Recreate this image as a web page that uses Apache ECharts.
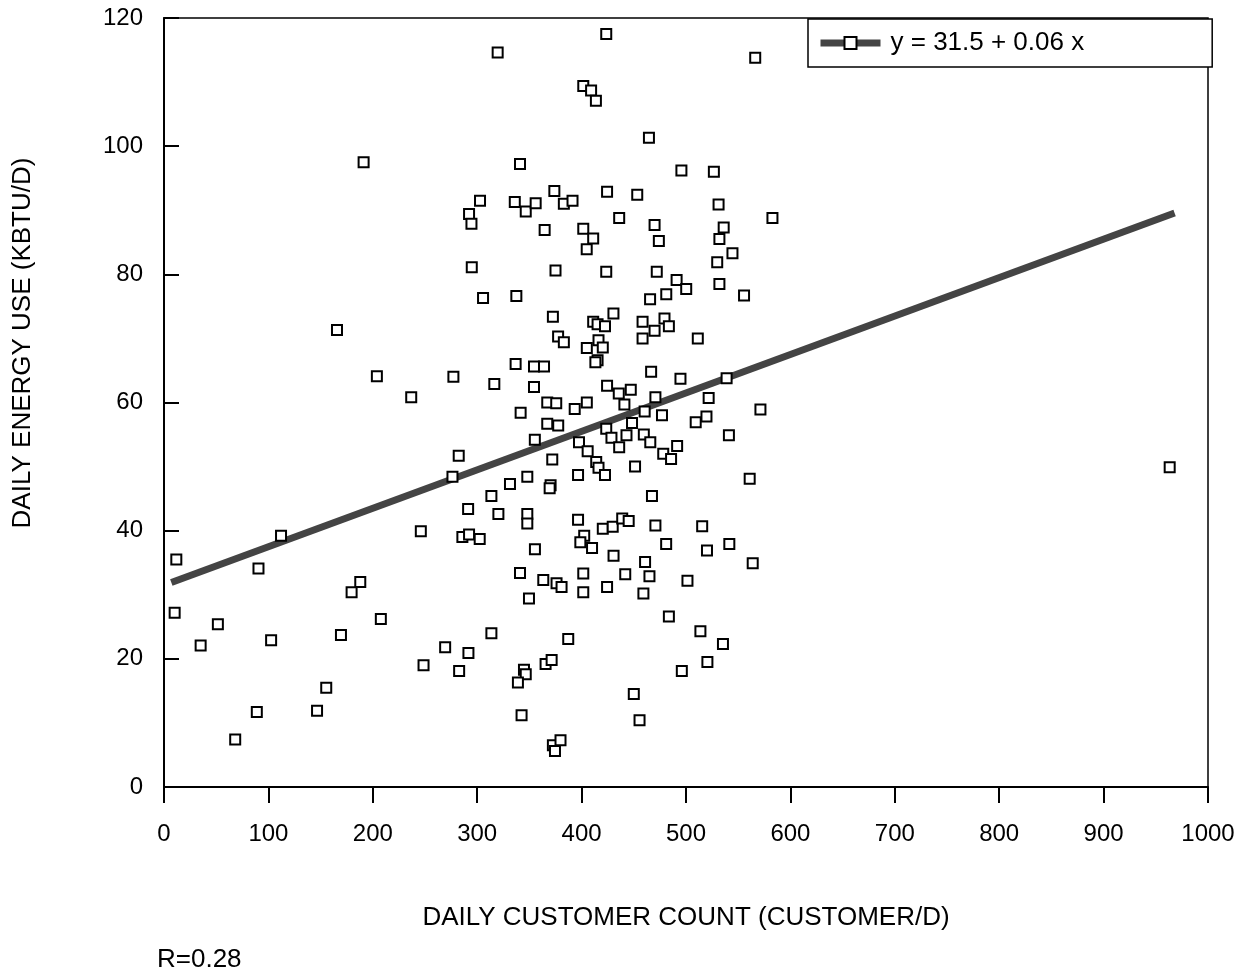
<!DOCTYPE html>
<html>
<head>
<meta charset="utf-8">
<script src="https://cdn.jsdelivr.net/npm/echarts@6/dist/echarts.min.js"></script>
<style>
  html, body { margin: 0; padding: 0; background: #fff; }
  #chart { width: 1249px; height: 976px; }
</style>
</head>
<body>
<div id="chart"></div>
<script>
const FONT = '"Liberation Sans", Arial, Helvetica, sans-serif';

// Observed days: customer count (customers/day) and energy use (kBtu/day)
const dailyCustomers = [
  319.6, 191.2, 341, 302.7, 336, 346.5, 356, 292.2, 294.5, 364.6, 294.8, 375,
  423.6, 566.3, 401.6, 409.1, 413.7, 464.5, 495.6, 526.7, 373.9, 424.4,
  453.3, 383, 391.3, 531.2, 436, 582.8, 469.9, 401.6, 411.1, 404.9,
  474, 536.1, 532, 544.5, 529.9, 423.6, 472, 491, 500.2, 532,
  555.6, 465.6, 481.1,
  305.6, 337.5, 372.5, 377.5, 383, 165.7, 336.8, 354.4, 364, 203.9,
  277.2, 316.4, 354.4, 236.8, 367.1, 375.7, 341.6, 367.1, 377.6, 355.2,
  282.3, 276.3, 371.9, 348, 331.4, 370.3, 369.4, 313.6, 291.3, 320.3,
  348, 348, 246, 285.8, 292.2, 302.4, 112.1,
  355.3, 11.8, 90.5, 341, 363.3, 376, 380.8, 188, 179.7, 349.6,
  10.2, 51.6, 207.7, 313.6, 35.1, 102.6, 169.5, 269.3, 291.6, 248.6,
  282.7, 365.5, 371.3, 344.8, 346.5, 339, 155.4, 88.9, 146.6, 342.5,
  68.2, 372.5, 379.8, 374.5,
  411.1, 415.3, 422.4, 430.5, 458.4, 479.4, 483.6, 469.9, 458.4, 511.3,
  405, 416.2, 420.3, 415.3, 413.2, 466.6, 494.7, 538.9, 424.4, 435.6,
  447.1, 470.7, 521.7, 393.4, 405, 441, 460.4, 477, 448.3, 509.3,
  519.6, 571.3, 423.6, 428.6, 443, 459.6, 465.8, 436, 397.5, 405.8,
  541.1, 478.2, 485.7, 491.5, 451.2, 414, 416.2, 422.4, 396.6, 561,
  467.4, 396.6, 420.3, 429.8, 438.9, 445.1, 470.7, 515.5, 402.5, 963.3,
  398.8, 410, 481, 430.6, 460.8, 520.1, 541.5, 563.9, 401.6, 401.6,
  424.4, 441.8, 465, 459.2, 501.4, 483.6, 513.8, 535.4, 520.5, 496,
  387.2, 450, 455.5
];

const dailyEnergy = [
  114.6, 97.5, 97.2, 91.5, 91.3, 89.8, 91.1, 89.4, 87.9, 86.9, 81.1, 80.6,
  117.5, 113.8, 109.4, 108.7, 107.1, 101.3, 96.2, 96.0, 93.0, 92.9,
  92.4, 91.0, 91.5, 90.9, 88.8, 88.8, 87.7, 87.1, 85.6, 83.9,
  85.2, 87.3, 85.5, 83.3, 81.9, 80.4, 80.4, 79.1, 77.7, 78.5,
  76.7, 76.1, 76.9,
  76.3, 76.6, 73.4, 70.3, 69.4, 71.3, 66.0, 65.6, 65.6, 64.1,
  64.0, 62.9, 62.4, 60.8, 60.0, 59.9, 58.4, 56.7, 56.4, 54.2,
  51.7, 48.4, 51.1, 48.4, 47.3, 47.1, 46.6, 45.4, 43.4, 42.6,
  42.6, 41.1, 39.9, 39.0, 39.4, 38.7, 39.2,
  37.1, 35.5, 34.1, 33.4, 32.3, 31.8, 31.2, 32.0, 30.4, 29.4,
  27.2, 25.4, 26.2, 24.0, 22.1, 22.9, 23.7, 21.8, 20.9, 19.0,
  18.1, 19.2, 19.8, 18.3, 17.6, 16.3, 15.5, 11.7, 11.9, 11.2,
  7.4, 6.5, 7.3, 5.6,
  72.6, 72.2, 71.9, 73.9, 72.6, 73.1, 71.9, 71.2, 70.0, 70.0,
  68.5, 69.7, 68.6, 66.6, 66.3, 64.8, 63.7, 63.8, 62.6, 61.4,
  62.0, 60.8, 60.7, 59.0, 60.0, 59.7, 58.6, 58.0, 56.8, 56.9,
  57.8, 58.9, 55.9, 54.5, 54.9, 55.0, 53.8, 53.0, 53.8, 52.4,
  54.9, 52.0, 51.2, 53.2, 50.0, 50.7, 49.8, 48.7, 48.7, 48.1,
  45.4, 41.7, 40.3, 40.6, 41.9, 41.5, 40.8, 40.7, 39.2, 49.9,
  38.2, 37.3, 37.9, 36.1, 35.1, 36.9, 37.9, 34.9, 33.3, 30.4,
  31.2, 33.2, 32.9, 30.2, 32.2, 26.6, 24.3, 22.3, 19.5, 18.1,
  23.1, 14.5, 10.4
];

// Least-squares fit shown in the legend, drawn over the observed customer range
const fitIntercept = 31.5;
const fitSlope = 0.06;
const fitXRange = [7, 968];
const correlationR = 0.28;

const xAxisRange = [0, 1000, 100];
const yAxisRange = [0, 120, 20];

const xTitle = 'DAILY CUSTOMER COUNT (CUSTOMER/D)';
const yTitle = 'DAILY ENERGY USE (KBTU/D)';

const points = dailyCustomers.map((x, i) => [x, dailyEnergy[i]]);
const fitName = 'y = ' + fitIntercept + ' + ' + fitSlope + ' x';
const fitLine = fitXRange.map(x => [x, fitIntercept + fitSlope * x]);

const chart = echarts.init(document.getElementById('chart'), null, { renderer: 'canvas' });

chart.setOption({
  animation: false,
  backgroundColor: '#fff',
  textStyle: { fontFamily: FONT, color: '#000' },
  grid: {
    left: 164, right: 41, top: 18, bottom: 189,
    show: true, borderColor: '#000', borderWidth: 1.5,
    backgroundColor: 'transparent'
  },
  legend: {
    data: [fitName],
    left: 808, top: 19,
    itemWidth: 60, itemHeight: 15,
    padding: [11, 128, 11, 9],
    borderColor: '#000', borderWidth: 1.5,
    backgroundColor: '#fff',
    lineStyle: { width: 7 },
    textStyle: { fontFamily: FONT, fontSize: 26, color: '#000', lineHeight: 26, padding: [0, 0, 0, 5] }
  },
  xAxis: {
    type: 'value',
    min: xAxisRange[0], max: xAxisRange[1], interval: xAxisRange[2],
    axisLine: { lineStyle: { color: '#000', width: 2 } },
    axisTick: { inside: false, length: 16, lineStyle: { color: '#000', width: 2 } },
    axisLabel: { fontFamily: FONT, fontSize: 24, color: '#000', margin: 35, formatter: v => String(v) },
    splitLine: { show: false },
    name: xTitle,
    nameLocation: 'middle',
    nameGap: 118,
    nameTextStyle: { fontFamily: FONT, fontSize: 26, color: '#000' }
  },
  yAxis: {
    type: 'value',
    min: yAxisRange[0], max: yAxisRange[1], interval: yAxisRange[2],
    axisLine: { show: true, lineStyle: { color: '#000', width: 2 } },
    axisTick: { show: true, inside: true, length: 15, lineStyle: { color: '#000', width: 2 } },
    axisLabel: { fontFamily: FONT, fontSize: 24, color: '#000', margin: 21, formatter: v => String(v) },
    splitLine: { show: false }
  },
  graphic: [
    {
      type: 'text',
      x: 23, y: 343,
      rotation: Math.PI / 2,
      style: {
        text: yTitle,
        font: '26px ' + FONT,
        fill: '#000',
        textAlign: 'center',
        textVerticalAlign: 'middle'
      }
    },
    {
      type: 'text',
      x: 157, y: 960,
      style: {
        text: 'R=' + correlationR,
        font: '26px ' + FONT,
        fill: '#000',
        textAlign: 'left',
        textVerticalAlign: 'middle'
      }
    }
  ],
  series: [
    {
      type: 'line',
      name: fitName,
      data: fitLine,
      symbol: 'rect',
      symbolSize: 12,
      showSymbol: false,
      silent: true,
      lineStyle: { color: '#444', width: 7 },
      itemStyle: { color: '#fff', borderColor: '#000', borderWidth: 2 },
      z: 2
    },
    {
      type: 'scatter',
      name: 'observed',
      data: points,
      symbol: 'rect',
      symbolSize: 10,
      itemStyle: { color: '#fff', borderColor: '#000', borderWidth: 2, opacity: 1 },
      z: 3
    }
  ]
});
</script>
</body>
</html>
